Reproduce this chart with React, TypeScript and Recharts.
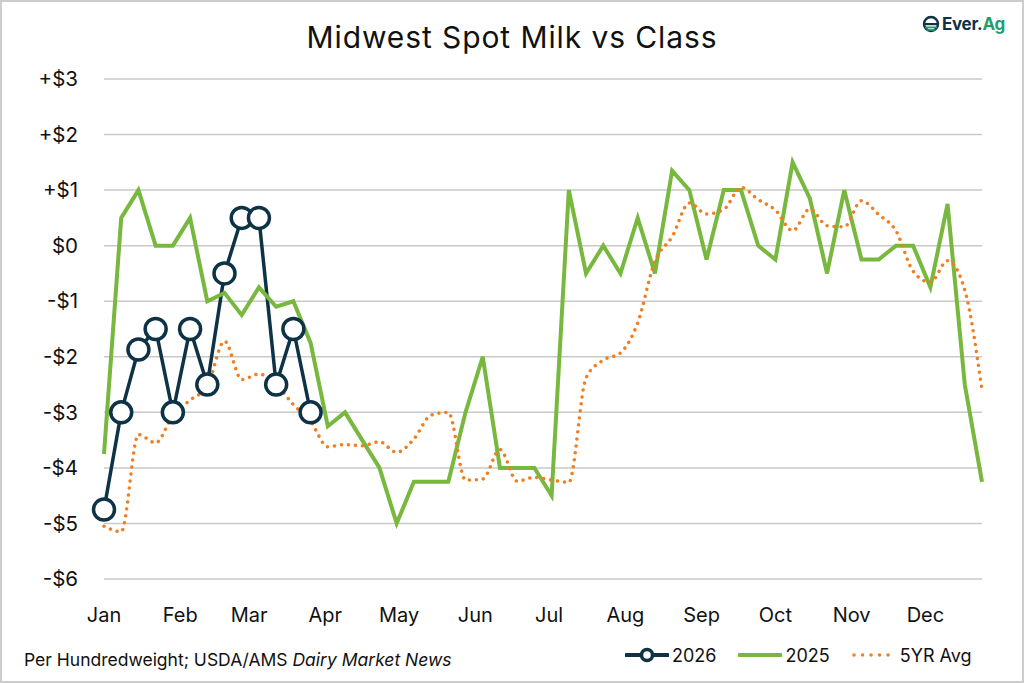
import React from "react";
import { LineChart, Line, XAxis, YAxis, CartesianGrid } from "recharts";

// weekly spot premium vs class, $/cwt
const spot2026 = [-4.75, -3.0, -1.87, -1.5, -3.0, -1.5, -2.5, -0.5, 0.5, 0.5, -2.5, -1.5, -3.0];
const spot2025 = [
  -3.75, 0.5, 1.0, 0, 0, 0.5, -1.0, -0.85, -1.25, -0.75, -1.1, -1.0, -1.75,
  -3.25, -3.0, -3.5, -4.0, -5.0, -4.25, -4.25, -4.25, -3.0, -2.0, -4.0, -4.0, -4.0,
  -4.5, 1.0, -0.5, 0, -0.5, 0.5, -0.5, 1.35, 1.0, -0.25, 1.0, 1.0, 0, -0.25,
  1.5, 0.85, -0.5, 1.0, -0.25, -0.25, 0, 0, -0.75, 0.75, -2.5, -4.25,
];
const avg5yr = [
  -5.05, -5.15, -3.4, -3.55, -3.05, -2.78, -2.53, -1.72, -2.41, -2.31, -2.5, -2.86, -3.16,
  -3.62, -3.58, -3.6, -3.53, -3.72, -3.48, -3.05, -3.0, -4.22, -4.2, -3.67, -4.24, -4.17,
  -4.22, -4.26, -2.38, -2.06, -1.93, -1.39, -0.28, 0.16, 0.77, 0.57, 0.65, 1.05, 0.83,
  0.64, 0.27, 0.66, 0.36, 0.34, 0.81, 0.56, 0.27, -0.46, -0.66, -0.27, -0.8, -2.6,
];

const months = ["Jan", "Feb", "Mar", "Apr", "May", "Jun", "Jul", "Aug", "Sep", "Oct", "Nov", "Dec"];
const monthStartDay = [0, 31, 59, 90, 120, 151, 181, 212, 243, 273, 304, 334];
const yTicks = [-6, -5, -4, -3, -2, -1, 0, 1, 2, 3];

const monthTicks = monthStartDay.map((d) => d / 7);

const rows = spot2025.map((v, i) => ({
  week: i,
  y2026: i < spot2026.length ? spot2026[i] : null,
  y2025: v,
  avg: avg5yr[i],
}));

const NAVY = "#0e3246";
const GREEN = "#78b83e";
const ORANGE = "#f07f22";
const FONT = "Inter, 'Open Sans', sans-serif";

const fmtDollar = (v: number) => (v > 0 ? `+$${v}` : v < 0 ? `-$${Math.abs(v)}` : "$0");
const fmtMonth = (v: number) => {
  const i = monthTicks.findIndex((t) => Math.abs(t - v) < 0.01);
  return i >= 0 ? months[i] : "";
};

function Logo() {
  return (
    <div style={{ position: "absolute", left: 922, top: 14, display: "flex", alignItems: "center" }}>
      <svg width="18" height="18" viewBox="0 0 18 18">
        <circle cx="9" cy="9" r="7" fill="none" stroke={NAVY} strokeWidth="2.4" />
        <rect x="2" y="8" width="14" height="2.2" fill={NAVY} />
        <rect x="3" y="11.5" width="12" height="1.8" fill="#1f9e6e" />
        <rect x="4.5" y="14.2" width="9" height="1.6" fill="#1f9e6e" />
      </svg>
      <span style={{ fontFamily: FONT, fontWeight: 700, fontSize: 17, color: NAVY, marginLeft: 2, letterSpacing: -0.3 }}>
        Ever.<span style={{ color: "#1f9e6e" }}>Ag</span>
      </span>
    </div>
  );
}

function LegendRow() {
  const text: React.CSSProperties = { fontFamily: FONT, fontSize: 18, color: "#111", marginLeft: 3 };
  return (
    <div style={{ position: "absolute", left: 625, top: 643, display: "flex", alignItems: "center", height: 24 }}>
      <svg width="44" height="16">
        <line x1="1" y1="8" x2="43" y2="8" stroke={NAVY} strokeWidth="4" strokeLinecap="round" />
        <circle cx="22" cy="8" r="5.5" fill="#fff" stroke={NAVY} strokeWidth="3.5" />
      </svg>
      <span style={text}>2026</span>
      <svg width="44" height="16" style={{ marginLeft: 22 }}>
        <line x1="1" y1="8" x2="43" y2="8" stroke={GREEN} strokeWidth="4" strokeLinecap="round" />
      </svg>
      <span style={text}>2025</span>
      <svg width="40" height="16" style={{ marginLeft: 22 }}>
        <line x1="2" y1="8" x2="38" y2="8" stroke={ORANGE} strokeWidth="3.5" strokeLinecap="round" strokeDasharray="0.01 8.5" />
      </svg>
      <span style={{ ...text, marginLeft: 8 }}>5YR Avg</span>
    </div>
  );
}

export default function App() {
  return (
    <div style={{ position: "fixed", left: 0, top: 0, width: 1024, height: 683, background: "#fff", overflow: "hidden" }}>
      <div
        style={{
          position: "absolute",
          left: 0,
          top: 19,
          width: 1024,
          textAlign: "center",
          fontFamily: FONT,
          fontSize: 30,
          letterSpacing: 0.9,
          color: "#111",
        }}
      >
        Midwest Spot Milk vs Class
      </div>
      <Logo />
      <LineChart
        width={1024}
        height={683}
        data={rows}
        margin={{ top: 79, right: 42, bottom: 60, left: 22 }}
      >
        <CartesianGrid vertical={false} stroke="#c9c9c9" strokeWidth={1.5} />
        <XAxis
          dataKey="week"
          type="number"
          domain={[0, 51]}
          ticks={monthTicks}
          interval={0}
          tickFormatter={fmtMonth}
          axisLine={false}
          tickLine={false}
          tickSize={0}
          tickMargin={29}
          height={44}
          tick={{ fill: "#111", fontSize: 20, fontFamily: FONT }}
        />
        <YAxis
          type="number"
          domain={[-6, 3]}
          ticks={yTicks}
          interval={0}
          tickFormatter={fmtDollar}
          axisLine={false}
          tickLine={false}
          tickSize={0}
          tickMargin={26}
          width={82}
          tick={{ fill: "#111", fontSize: 20.5, fontFamily: FONT }}
        />
        <Line
          dataKey="y2026"
          type="linear"
          stroke={NAVY}
          strokeWidth={3.5}
          dot={{ r: 10.5, fill: "#fff", stroke: NAVY, strokeWidth: 3.5 }}
          connectNulls={false}
          isAnimationActive={false}
        />
        <Line
          dataKey="y2025"
          type="linear"
          stroke={GREEN}
          strokeWidth={4}
          dot={false}
          isAnimationActive={false}
        />
        <Line
          dataKey="avg"
          type="monotone"
          stroke={ORANGE}
          strokeWidth={3.5}
          strokeLinecap="round"
          strokeDasharray="0.01 7"
          dot={false}
          isAnimationActive={false}
        />
      </LineChart>
      <div style={{ position: "absolute", left: 24, top: 649, fontFamily: FONT, fontSize: 17.5, color: "#111" }}>
        Per Hundredweight; USDA/AMS <i>Dairy Market News</i>
      </div>
      <LegendRow />
      <div
        style={{
          position: "absolute",
          left: 0,
          top: 0,
          width: 1024,
          height: 683,
          boxSizing: "border-box",
          border: "2px solid #cdcdcd",
          pointerEvents: "none",
        }}
      />
    </div>
  );
}
